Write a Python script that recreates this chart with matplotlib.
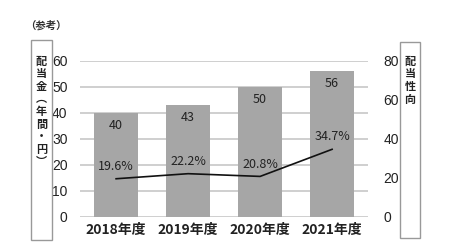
import matplotlib
matplotlib.use("Agg")
import matplotlib.pyplot as plt
from matplotlib.patches import Rectangle

plt.rcParams['font.family'] = ['Noto Sans CJK JP', 'DejaVu Sans']

years = ["2018年度", "2019年度", "2020年度", "2021年度"]
dividend = [40, 43, 50, 56]
payout = [19.6, 22.2, 20.8, 34.7]
payout_labels = ["19.6%", "22.2%", "20.8%", "34.7%"]

fig = plt.figure(figsize=(4.5, 2.52), dpi=100)
ax = fig.add_axes([0.178, 0.139, 0.64, 0.619])
ax2 = ax.twinx()

x = range(len(years))
ax.bar(x, dividend, width=0.62, color="#a6a6a6", zorder=2)
for i, v in enumerate(dividend):
    ax.text(i, v - 2.2, str(v), ha="center", va="top", fontsize=9, color="#222222", zorder=4)

ax.set_ylim(0, 60)
ax.set_yticks(range(0, 61, 10))
ax.set_xlim(-0.5, 3.5)
ax.set_xticks(list(x))
ax.set_xticklabels(years, fontsize=9, fontweight="bold", color="#222222")
ax.grid(axis="y", color="#cfcfcf", linewidth=1.4, zorder=0)
ax.set_axisbelow(True)

ax2.plot(list(x), payout, color="#111111", linewidth=1.2, zorder=5)
for i, v in enumerate(payout):
    ax2.text(i, v + 3, payout_labels[i], ha="center", va="bottom", fontsize=9, color="#222222")
ax2.set_ylim(0, 80)
ax2.set_yticks(range(0, 81, 20))

for a in (ax, ax2):
    for s in a.spines.values():
        s.set_visible(False)
    a.tick_params(length=0, labelsize=10, colors="#222222")
    for lbl in a.get_yticklabels():
        lbl.set_family(["Liberation Sans", "DejaVu Sans"])
ax.tick_params(axis="y", pad=9)
ax2.tick_params(axis="y", pad=11)
ax.tick_params(axis="x", pad=4)
ax.set_zorder(ax2.get_zorder() - 1)
ax.patch.set_visible(True)
ax2.patch.set_visible(False)

fig.text(25 / 450, 1 - 25 / 252, "（参考）", fontsize=7.5, fontweight="bold", va="center", ha="left", color="#333333")

# left label box
fig.patches.append(Rectangle((31 / 450, 1 - 240 / 252), 21 / 450, 200 / 252,
                             transform=fig.transFigure, fill=False, edgecolor="#999999", linewidth=1))
fig.text(41.5 / 450, 1 - 55 / 252, "\n".join("配当金︵年間・円︶"), fontsize=8, fontweight="bold",
         ha="center", va="top", linespacing=0.95, color="#222222")

# right label box
fig.patches.append(Rectangle((400 / 450, 1 - 238 / 252), 20 / 450, 196 / 252,
                             transform=fig.transFigure, fill=False, edgecolor="#999999", linewidth=1))
fig.text(410 / 450, 1 - 55 / 252, "\n".join("配当性向"), fontsize=8, fontweight="bold",
         ha="center", va="top", linespacing=0.95, color="#222222")

fig.savefig("out.png", dpi=100)
